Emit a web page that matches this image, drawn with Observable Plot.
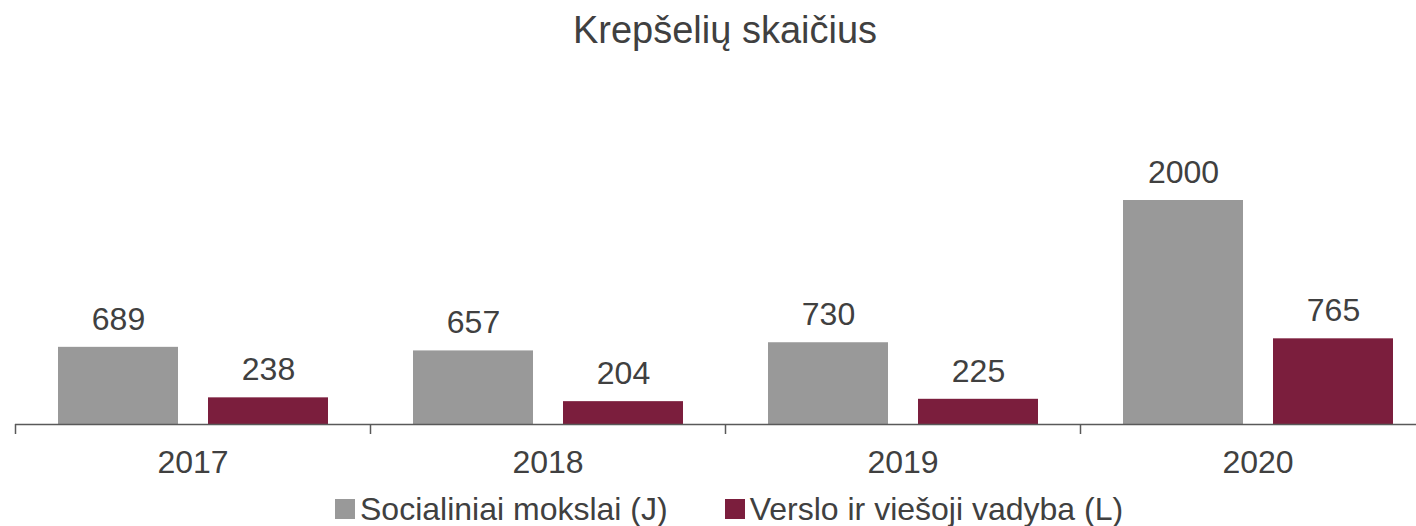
<!DOCTYPE html>
<html><head><meta charset="utf-8">
<script src="https://cdn.jsdelivr.net/npm/d3@7"></script>
<script src="https://cdn.jsdelivr.net/npm/@observablehq/plot@0.6"></script>
<style>
body{margin:0;background:#fff;font-family:"Liberation Sans",Arial,sans-serif;color:#404040;width:1416px;overflow:hidden;}
#title{height:70px;font-size:38px;line-height:60px;text-align:center;padding-left:34px;box-sizing:border-box;}
#chart{height:412px;}
#legend{height:44px;padding-top:10px;box-sizing:border-box;display:flex;padding-left:335px;font-size:32px;line-height:36px;}
.item{display:flex;align-items:center;}
.sw{width:20px;height:20px;margin-right:5px;}
</style></head><body>
<div id="title">Krepšelių skaičius</div>
<div id="chart"></div>
<div id="legend"></div>
<script>
const years = ["2017", "2018", "2019", "2020"];
const seriesNames = ["Socialiniai mokslai (J)", "Verslo ir viešoji vadyba (L)"];
const socialiniai = [689, 657, 730, 2000];
const verslo = [238, 204, 225, 765];
const colors = ["#999999", "#7B1E3D"];

const data = years.flatMap((y, i) => [
  {year: y, series: seriesNames[0], value: socialiniai[i]},
  {year: y, series: seriesNames[1], value: verslo[i]}
]);

const font = '"Liberation Sans", Arial, sans-serif';
const chart = Plot.plot({
  width: 1416, height: 412,
  marginLeft: 0, marginRight: 0, marginTop: 130, marginBottom: 58,
  style: {fontFamily: font, fontSize: "32px", color: "#404040", background: "transparent"},
  fx: {domain: years, range: [15, 1435], padding: 0, axis: null, label: null},
  x: {domain: seriesNames, paddingInner: 0.2, paddingOuter: 0.283, axis: null},
  y: {domain: [0, 2000], axis: null},
  color: {domain: seriesNames, range: colors},
  marks: [
    Plot.barY(data, {fx: "year", x: "series", y: "value", fill: "series"}),
    Plot.text(data, {fx: "year", x: "series", y: "value", text: d => String(d.value), dy: -28, fill: "#404040", fontSize: 32}),
    Plot.ruleY([0], {stroke: "#595959", strokeWidth: 1.5}),
    Plot.axisFx({anchor: "bottom", tickSize: 0, tickPadding: 26, fontSize: 32, fill: "#404040", label: null}),
    Plot.axisFx({anchor: "bottom", tickSize: 10, tickFormat: () => "", dx: -177.5, stroke: "#595959", strokeWidth: 1.5, label: null})
  ]
});
document.getElementById("chart").appendChild(chart);

const legend = document.getElementById("legend");
seriesNames.forEach((s, i) => {
  const it = document.createElement("div");
  it.className = "item";
  if (i > 0) it.style.marginLeft = "57px";
  const sw = document.createElement("div");
  sw.className = "sw";
  sw.style.background = colors[i];
  const t = document.createElement("span");
  t.textContent = s;
  it.appendChild(sw); it.appendChild(t);
  legend.appendChild(it);
});
</script>
</body></html>
